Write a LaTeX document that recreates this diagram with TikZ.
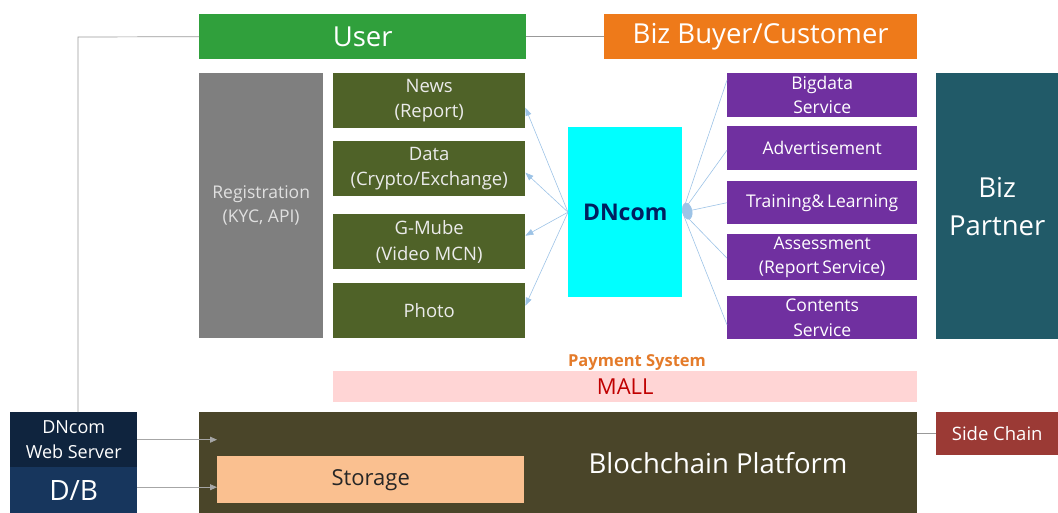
\documentclass[tikz,border=0pt]{standalone}
\usepackage{fontspec}
\setmainfont{Open Sans}
\usetikzlibrary{arrows.meta}

\definecolor{usergreen}{HTML}{30A03C}
\definecolor{bizorange}{HTML}{EE7A1A}
\definecolor{reggray}{HTML}{7F7F7F}
\definecolor{svcolive}{HTML}{4F6228}
\definecolor{dncyan}{HTML}{00FFFF}
\definecolor{dnblue}{HTML}{002060}
\definecolor{svcpurple}{HTML}{7030A0}
\definecolor{partnerteal}{HTML}{215A68}
\definecolor{mallpink}{HTML}{FFD5D5}
\definecolor{mallred}{HTML}{C00000}
\definecolor{payorange}{HTML}{E47B2A}
\definecolor{chaindark}{HTML}{4A4529}
\definecolor{storagepeach}{HTML}{FAC090}
\definecolor{sidered}{HTML}{9B3A35}
\definecolor{servernavy}{HTML}{0F243E}
\definecolor{dbnavy}{HTML}{17365D}
\definecolor{linkblue}{HTML}{9DC3E6}

\newcommand{\fs}[1]{\fontsize{#1}{\fpeval{1.38*#1}}\selectfont}

\begin{document}
\begin{tikzpicture}[x=1pt,y=-1pt,
    box/.style={anchor=north west, inner sep=0pt, align=center, text=white},
    svc/.style={box, fill=svcolive, minimum width=192, minimum height=55, font=\fs{18.5}, text=white!92!black},
    prp/.style={box, fill=svcpurple, minimum width=190, minimum height=44, font=\fs{17.5}},
    link/.style={linkblue, line width=0.6pt},
    feed/.style={gray!70, line width=0.8pt, -{Triangle[length=7pt,width=6pt]}}]
  \useasboundingbox (0,0) rectangle (1058,513);

  % top row
  \node[box, fill=usergreen, minimum width=327, minimum height=45, font=\fs{27.5}] (user) at (199,14) {User};
  \node[box, fill=bizorange, minimum width=313, minimum height=45, font=\fs{27.5}] (biz) at (604,14) {Biz Buyer/Customer};

  % left column
  \node[box, fill=reggray, minimum width=124, minimum height=265, font=\fs{17.5}, text=white!88!black] (reg) at (199,73) {Registration\\(KYC, API)};
  \node[svc] (news) at (333,73) {News\\(Report)};
  \node[svc] (data) at (333,141) {Data\\(Crypto/Exchange)};
  \node[svc] (mube) at (333,214) {G-Mube\\(Video MCN)};
  \node[svc] (photo) at (333,283) {Photo};

  % center
  \node[box, fill=dncyan, minimum width=114, minimum height=170, font=\bfseries\fs{23}, text=dnblue] (dncom) at (568,127) {DNcom};

  % right column
  \node[prp] (bigdata) at (727,73) {Bigdata\\Service};
  \node[prp] (advert) at (727,126) {Advertisement};
  \node[prp, minimum height=43] (train) at (727,181) {Training\&\,Learning};
  \node[prp, minimum height=46] (assess) at (727,234) {Assessment\\(Report\,Service)};
  \node[prp, minimum height=43] (contents) at (727,296) {Contents\\Service};
  \node[box, fill=partnerteal, minimum width=122, minimum height=266, font=\fs{27.5}] (partner) at (936,73) {Biz\\Partner};

  % mall
  \node[anchor=center, font=\bfseries\fs{16.5}, text=payorange, inner sep=0pt] (pay) at (637,363) {Payment System};
  \node[box, fill=mallpink, minimum width=584, minimum height=31, font=\fs{22}, text=mallred] (mall) at (333,371) {MALL};

  % bottom
  \node[box, fill=chaindark, minimum width=718, minimum height=101] (chain) at (199,412) {};
  \node[anchor=center, font=\fs{27.5}, text=white, inner sep=0pt] (chaintxt) at (718,463) {Blochchain Platform};
  \node[box, fill=storagepeach, minimum width=307, minimum height=47, font=\fs{22}, text=black!85] (storage) at (217,456) {Storage};
  \node[box, fill=sidered, minimum width=122, minimum height=43, font=\fs{18.5}] (side) at (936,412) {Side Chain};
  \node[box, fill=servernavy, minimum width=127, minimum height=55, font=\fs{18}] (websrv) at (10,412) {DNcom\\Web Server};
  \node[box, fill=dbnavy, minimum width=127, minimum height=46, font=\fs{28}] (db) at (10,467) {D/B};

  % connectors
  \coordinate (bend) at (78,37);
  \draw[gray!80, line width=0.7pt] (user.west) -- (bend) -- (bend |- websrv.north);
  \draw[gray!80, line width=0.7pt] (user.east) -- (biz.west);
  \draw[gray!80, line width=0.7pt] (chain.east |- side.west) -- (side.west);

  \draw[link, -{Triangle[length=8pt,width=6pt]}] (dncom.west) -- ([yshift=-7pt]news.east);
  \draw[link, -{Triangle[length=8pt,width=6pt]}] (dncom.west) -- ([yshift=-4pt]data.east);
  \draw[link, -{Triangle[length=8pt,width=6pt]}] (dncom.west) -- ([yshift=6pt]mube.east);
  \draw[link, -{Triangle[length=8pt,width=6pt]}] (dncom.west) -- ([yshift=5pt]photo.east);

  \foreach \n/\s in {bigdata/15, advert/-2, assess/-1, contents/-7}
    \draw[link] (dncom.east) -- ([yshift=\s pt]\n.west);
  \draw[link, {Circle[length=10pt,width=17pt]}-] (dncom.east) -- (train.west);

  \draw[feed] (websrv.east) -- (websrv.east -| storage.west);
  \draw[feed] ([yshift=3pt]db.east) -- ([yshift=3pt]db.east -| storage.west);
\end{tikzpicture}
\end{document}
